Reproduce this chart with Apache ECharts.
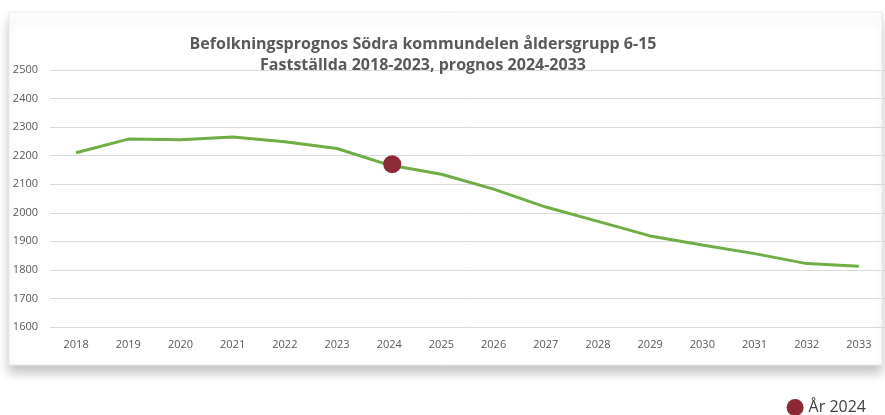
<!DOCTYPE html>
<html>
<head>
<meta charset="utf-8">
<script src="https://cdn.jsdelivr.net/npm/echarts@6/dist/echarts.min.js"></script>
<style>
  html, body { margin: 0; padding: 0; background: #fff; }
  #main { width: 885px; height: 415px; }
</style>
</head>
<body>
<div id="main"></div>
<script>
var years = ['2018', '2019', '2020', '2021', '2022', '2023', '2024', '2025',
             '2026', '2027', '2028', '2029', '2030', '2031', '2032', '2033'];
var population = [2210, 2258, 2256, 2265, 2249, 2225, 2167, 2135,
                  2083, 2020, 1970, 1919, 1887, 1857, 1822, 1813];
var markerYear = '2024';
var markerValue = 2170;
var yTicks = { min: 1600, max: 2500, step: 100 };

var myChart = echarts.init(document.getElementById('main'));

var options = {
    backgroundColor: '#fff',
    animation: false,
    textStyle: { fontFamily: '"Open Sans", sans-serif' },
    title: {
        text: 'Befolkningsprognos Södra kommundelen åldersgrupp 6-15\nFastställda 2018-2023, prognos 2024-2033',
        left: 418,
        top: 29,
        textAlign: 'center',
        textStyle: {
            color: '#595959',
            fontSize: 16,
            fontWeight: 'bold',
            lineHeight: 21
        }
    },
    graphic: [{
        type: 'rect',
        z: -10,
        shape: { x: 9, y: 12, width: 873, height: 353 },
        style: {
            fill: '#fff',
            stroke: '#e8e8e8',
            lineWidth: 1,
            shadowBlur: 10,
            shadowOffsetY: 8,
            shadowColor: 'rgba(0,0,0,0.22)'
        }
    }],
    legend: {
        data: ['År 2024'],
        right: 14,
        top: 394,
        icon: 'circle',
        itemWidth: 17,
        itemHeight: 17,
        itemGap: 6,
        textStyle: { color: '#404040', fontSize: 16 }
    },
    grid: { left: 50, right: 0, top: 70, bottom: 88, containLabel: false },
    xAxis: {
        type: 'category',
        data: years,
        boundaryGap: true,
        axisLine: { show: false },
        axisTick: { show: false },
        axisLabel: { color: '#595959', fontSize: 11, margin: 12 }
    },
    yAxis: {
        type: 'value',
        min: yTicks.min,
        max: yTicks.max,
        interval: yTicks.step,
        axisLine: { show: false },
        axisTick: { show: false },
        axisLabel: {
            color: '#595959', fontSize: 11, margin: 12,
            formatter: function (v) { return String(v); }
        },
        splitLine: { lineStyle: { color: '#d9d9d9', width: 1 } }
    },
    series: [{
        name: 'Befolkning',
        type: 'line',
        data: population,
        symbol: 'none',
        lineStyle: { color: '#70ad47', width: 3 },
        z: 2
    }, {
        name: 'År 2024',
        type: 'scatter',
        data: [[markerYear, markerValue]],
        symbolSize: 18,
        symbolOffset: [3, 0],
        itemStyle: { color: '#8b2a33', opacity: 1 },
        z: 3
    }]
};
myChart.setOption(options);
</script>
</body>
</html>
